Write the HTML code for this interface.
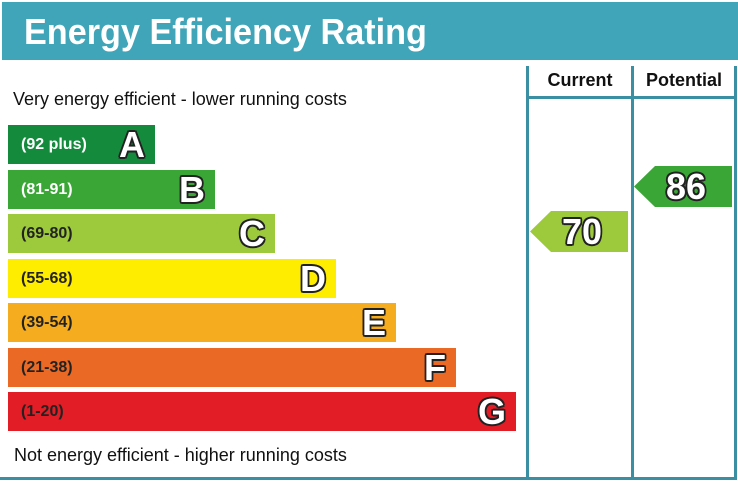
<!DOCTYPE html><html><head><style>
body{margin:0;width:738px;height:483px;background:#fff;position:relative;overflow:hidden;font-family:"Liberation Sans",Arial,sans-serif}
.a{position:absolute}
.hd{left:2px;top:2px;width:736px;height:58px;background:#41a5b9;color:#fff;font-weight:bold;font-size:36px;line-height:60px}
.hd span{display:inline-block;margin-left:22px;transform:scaleX(0.95);transform-origin:left}
.b{position:absolute;left:8px;height:39px;color:#fff;font-weight:bold;font-size:16px;line-height:39px;text-indent:13px}
.o{color:#fff;text-shadow:-1.5px -1.5px 0 #222,1.5px -1.5px 0 #222,-1.5px 1.5px 0 #222,1.5px 1.5px 0 #222,0 1.8px 0 #222,0 -1.8px 0 #222,1.8px 0 0 #222,-1.8px 0 0 #222}
.b span{position:absolute;right:10px;top:0;font-size:36px;line-height:39px}
.v{background:#3b8fa2;width:3px;top:66px;height:413px}
.t{font-size:18px;color:#111}
.ar{font-weight:bold;font-size:36px;line-height:41px;text-align:right}
</style></head><body>
<div class="a hd"><span>Energy Efficiency Rating</span></div>
<div class="a t" style="left:13px;top:89px">Very energy efficient - lower running costs</div>
<div class="a t" style="left:14px;top:445px">Not energy efficient - higher running costs</div>
<div class="b" style="top:125px;width:147px;background:#138a3c">(92 plus)<span class="o">A</span></div>
<div class="b" style="top:170px;width:207px;background:#3aa636">(81-91)<span class="o">B</span></div>
<div class="b" style="top:214px;width:267px;background:#9dca3c;color:#222">(69-80)<span class="o">C</span></div>
<div class="b" style="top:259px;width:328px;background:#ffed00;color:#222">(55-68)<span class="o">D</span></div>
<div class="b" style="top:303px;width:388px;background:#f5ac1e;color:#222">(39-54)<span class="o">E</span></div>
<div class="b" style="top:348px;width:448px;background:#ea6a25;color:#222">(21-38)<span class="o">F</span></div>
<div class="b" style="top:392px;width:508px;background:#e21d25;color:#222">(1-20)<span class="o">G</span></div>
<div class="a v" style="left:526px"></div>
<div class="a v" style="left:631px"></div>
<div class="a v" style="left:734px"></div>
<div class="a" style="left:526px;top:96px;width:211px;height:3px;background:#3b8fa2"></div>
<div class="a" style="left:0;top:477px;width:737px;height:3px;background:#3b8fa2"></div>
<div class="a" style="left:529px;top:70px;width:102px;text-align:center;font-weight:bold;font-size:18px;color:#111">Current</div>
<div class="a" style="left:634px;top:70px;width:100px;text-align:center;font-weight:bold;font-size:18px;color:#111">Potential</div>
<svg class="a" style="left:0;top:0" width="738" height="483">
<polygon points="530,231.5 551,211 628,211 628,252 551,252" fill="#9dca3c"/>
<polygon points="634,186.5 655,166 732,166 732,207 655,207" fill="#3aa636"/>
</svg>
<div class="a ar o" style="left:530px;top:211px;width:72px">70</div>
<div class="a ar o" style="left:634px;top:166px;width:72px">86</div>
</body></html>
